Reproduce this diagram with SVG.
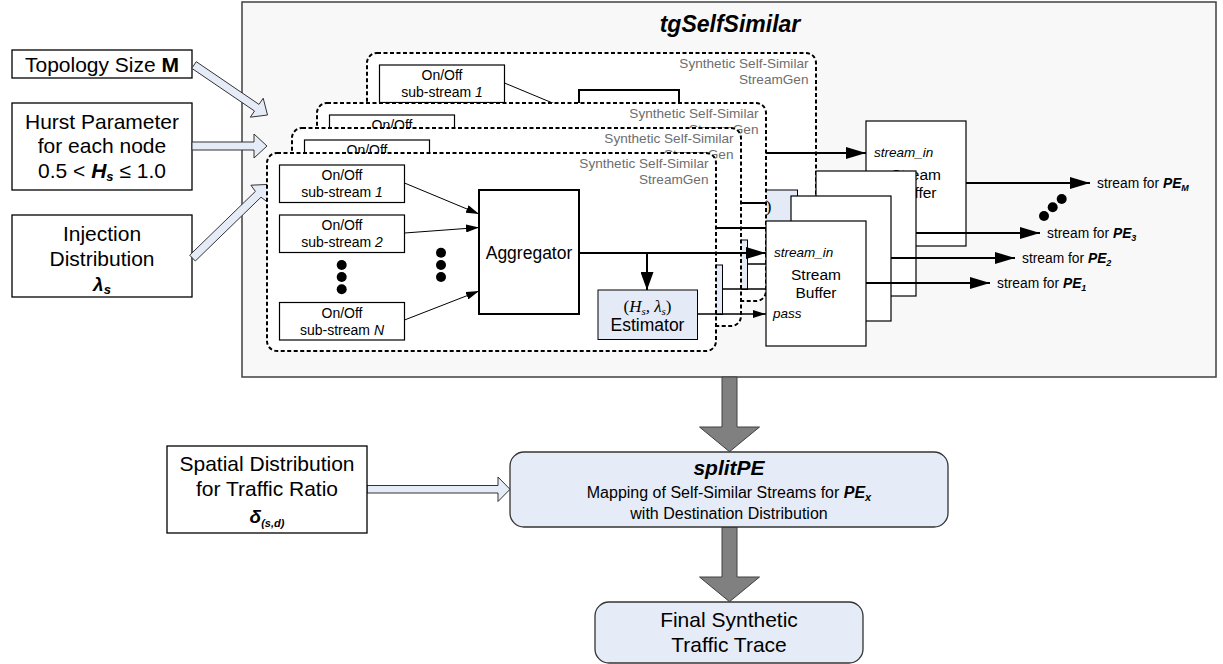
<svg xmlns="http://www.w3.org/2000/svg" width="1223" height="664" viewBox="0 0 1223 664">
<style>
text{font-family:"Liberation Sans",Arial,sans-serif;fill:#000}
.box{fill:#fff;stroke:#000;stroke-width:1.3}
.gen{fill:#fff;stroke:#000;stroke-width:2;stroke-dasharray:4 2.5}
.sub{fill:#fff;stroke:#000;stroke-width:1.2}
.agg{fill:#fff;stroke:#000;stroke-width:2}
.est{fill:#e4ebf6;stroke:#000;stroke-width:1}
.buf{fill:#fff;stroke:#000;stroke-width:1.2}
.gl{font-size:13.6px;fill:#6e6e6e;text-anchor:end}
.st{font-size:14px;text-anchor:middle}
.ag{font-size:17.5px;text-anchor:middle}
.bt{font-size:15.5px;text-anchor:middle}
.it{font-size:13.5px;font-style:italic}
.ol{font-size:13.8px}
.in{font-size:21px;text-anchor:middle}
.math{font-family:"Liberation Serif","Times New Roman",serif;font-style:italic;font-size:17px;text-anchor:middle}
.up{font-style:normal}
.thin{stroke:#000;stroke-width:1;fill:none}
.mid{stroke:#000;stroke-width:1.3;fill:none}
.thick{stroke:#000;stroke-width:2;fill:none}
.hol{fill:#e6ecf7;stroke:#333;stroke-width:1}
.gray{fill:#808080;stroke:#404040;stroke-width:1}
.rnd{fill:#e6ecf7;stroke:#333;stroke-width:1.3}
.dot{fill:#000}
</style>
<defs>
<marker id="ah" markerUnits="userSpaceOnUse" markerWidth="20" markerHeight="12" refX="20" refY="6" orient="auto"><path d="M0,0 L20,6 L0,12 z" fill="#000"/></marker>
<marker id="ahv" markerUnits="userSpaceOnUse" markerWidth="18" markerHeight="13" refX="18" refY="6.5" orient="auto"><path d="M0,0 L18,6.5 L0,13 z" fill="#000"/></marker>
<marker id="as" markerUnits="userSpaceOnUse" markerWidth="13" markerHeight="8" refX="13" refY="4" orient="auto"><path d="M0,0 L13,4 L0,8 z" fill="#000"/></marker>
</defs>

<g id="tgSelfSimilar">
<rect x="242" y="2" width="974" height="375" fill="#f8f8f8" stroke="#404040" stroke-width="1.5"/>
<text x="730" y="32" font-size="23px" font-weight="bold" font-style="italic" text-anchor="middle">tgSelfSimilar</text>
</g>

<g id="inputs">
<g id="topology"><rect class="box" x="12" y="50" width="180" height="28"/><text class="in" x="102" y="71.5">Topology Size <tspan font-weight="bold">M</tspan></text></g>
<g id="hurst"><rect class="box" x="12" y="103" width="180" height="87"/>
<text class="in" x="102" y="128.5">Hurst Parameter</text>
<text class="in" x="102" y="153">for each node</text>
<text class="in" x="102" y="177.5">0.5 &lt; <tspan font-weight="bold" font-style="italic">H</tspan><tspan font-weight="bold" font-style="italic" font-size="13px" dy="3">s</tspan><tspan dy="-3"> ≤ 1.0</tspan></text></g>
<g id="injection"><rect class="box" x="12" y="215" width="180" height="82"/>
<text class="in" x="102" y="240.5">Injection</text>
<text class="in" x="102" y="265.5">Distribution</text>
<text x="102" y="291" text-anchor="middle" font-family="Liberation Serif,serif" font-weight="bold" font-style="italic" font-size="19px">λ<tspan font-family="Liberation Sans,sans-serif" font-size="13px" dy="3">s</tspan></text></g>
</g>

<g id="input-arrows" class="connectors">
<polygon class="hol" points="196.25,61.7 259,104.4 263.2,98.2 267.5,115 250.3,117.2 254.5,111 191.75,68.3"/>
<polygon class="hol" points="192,142 254,142 254,134 267,146 254,158 254,150 192,150"/>
<polygon class="hol" points="189.7,255.2 255.4,191.4 250.9,185.2 268.8,184.4 267.2,201.8 261,197.2 195.3,261"/>
</g>

<!-- plane M (back) -->
<g id="plane-M" transform="translate(100,-100)">
<g id="gen-M">
<rect class="gen" x="267" y="153" width="449" height="198" rx="10"/>
<text class="gl" x="708.5" y="167.5">Synthetic Self-Similar</text>
<text class="gl" x="708.5" y="184">StreamGen</text>
<rect class="sub" x="279.5" y="165" width="125" height="37.5"/>
<text class="st" x="342" y="180">On/Off</text>
<text class="st" x="342" y="197">sub-stream <tspan font-style="italic">1</tspan></text>
<rect class="agg" x="479" y="190" width="100" height="124"/>
<rect class="est" x="598" y="290" width="99.5" height="49.5"/>
<text class="math" x="647.5" y="311.5"><tspan class="up">(</tspan>H<tspan font-size="11px" dy="3">s</tspan><tspan dy="-3">, λ</tspan><tspan font-size="11px" dy="3">s</tspan><tspan class="up" dy="-3">)</tspan></text>
</g>
<g id="conn-M" class="connectors">
<line class="thin" x1="404.5" y1="183" x2="479" y2="214" marker-end="url(#as)"/>
<line class="thick" x1="579" y1="253" x2="766" y2="253" marker-end="url(#ah)"/>
</g>
<g id="buffer-M">
<rect class="buf" x="766" y="221" width="100" height="125"/>
<text class="it" x="774" y="257">stream_in</text>
<text class="bt" x="816" y="279.5">Stream</text>
<text class="bt" x="816" y="298">Buffer</text>
</g>
<g id="out-M" class="connectors">
<line class="thick" x1="866" y1="283" x2="990" y2="283" marker-end="url(#ah)"/>
<text class="ol" x="997" y="288">stream for <tspan font-weight="bold" font-style="italic">PE</tspan><tspan font-weight="bold" font-style="italic" font-size="9px" dy="3">M</tspan></text>
</g>
</g>

<!-- plane 3 -->
<g id="plane-3" transform="translate(50,-50)">
<g id="gen-3">
<rect class="gen" x="267" y="153" width="449" height="198" rx="10"/>
<text class="gl" x="708.5" y="167.5">Synthetic Self-Similar</text>
<text class="gl" x="708.5" y="184">StreamGen</text>
<rect class="sub" x="279.5" y="165" width="125" height="37.5"/>
<text class="st" x="342" y="180">On/Off</text>
<rect class="agg" x="479" y="190" width="100" height="124"/>
<rect class="est" x="598" y="290" width="99.5" height="49.5"/>
</g>
<g id="conn-3" class="connectors">
<line class="thick" x1="579" y1="253" x2="716" y2="253"/>
<line class="mid" x1="697.5" y1="314" x2="766" y2="314" marker-end="url(#as)"/>
</g>
<g id="buffer-3">
<rect class="buf" x="766" y="221" width="100" height="125"/>
</g>
<g id="out-3" class="connectors">
<line class="thick" x1="866" y1="283" x2="990" y2="283" marker-end="url(#ah)"/>
<text class="ol" x="997" y="288">stream for <tspan font-weight="bold" font-style="italic">PE</tspan><tspan font-weight="bold" font-style="italic" font-size="9px" dy="3">3</tspan></text>
</g>
</g>

<!-- plane 2 -->
<g id="plane-2" transform="translate(25,-25)">
<g id="gen-2">
<rect class="gen" x="267" y="153" width="449" height="198" rx="10"/>
<text class="gl" x="708.5" y="167.5">Synthetic Self-Similar</text>
<text class="gl" x="708.5" y="184">StreamGen</text>
<rect class="sub" x="279.5" y="165" width="125" height="37.5"/>
<text class="st" x="342" y="180">On/Off</text>
<rect class="agg" x="479" y="190" width="100" height="124"/>
<rect class="est" x="598" y="290" width="99.5" height="49.5"/>
</g>
<g id="conn-2" class="connectors">
<line class="thick" x1="579" y1="253" x2="766" y2="253" marker-end="url(#ah)"/>
<line class="mid" x1="697.5" y1="314" x2="766" y2="314" marker-end="url(#as)"/>
</g>
<g id="buffer-2">
<rect class="buf" x="766" y="221" width="100" height="125"/>
</g>
<g id="out-2" class="connectors">
<line class="thick" x1="866" y1="283" x2="990" y2="283" marker-end="url(#ah)"/>
<text class="ol" x="997" y="288">stream for <tspan font-weight="bold" font-style="italic">PE</tspan><tspan font-weight="bold" font-style="italic" font-size="9px" dy="3">2</tspan></text>
</g>
</g>

<!-- plane 1 (front) -->
<g id="plane-1">
<g id="gen-1">
<rect class="gen" x="267" y="153" width="449" height="198" rx="10"/>
<text class="gl" x="708.5" y="167.5">Synthetic Self-Similar</text>
<text class="gl" x="708.5" y="184">StreamGen</text>
<g id="sub1"><rect class="sub" x="279.5" y="165" width="125" height="37.5"/>
<text class="st" x="342" y="180">On/Off</text>
<text class="st" x="342" y="197">sub-stream <tspan font-style="italic">1</tspan></text></g>
<g id="sub2"><rect class="sub" x="279.5" y="215" width="125" height="37.5"/>
<text class="st" x="342" y="230">On/Off</text>
<text class="st" x="342" y="247">sub-stream <tspan font-style="italic">2</tspan></text></g>
<g id="subN"><rect class="sub" x="279.5" y="302.5" width="125" height="37.5"/>
<text class="st" x="342" y="317.5">On/Off</text>
<text class="st" x="342" y="334.5">sub-stream <tspan font-style="italic">N</tspan></text></g>
<circle class="dot" cx="341.7" cy="265" r="5"/><circle class="dot" cx="341.7" cy="277" r="5"/><circle class="dot" cx="341.7" cy="289.3" r="5"/>
<circle class="dot" cx="441" cy="252.7" r="5"/><circle class="dot" cx="441" cy="265" r="5"/><circle class="dot" cx="441" cy="277" r="5"/>
<g id="aggregator"><rect class="agg" x="479" y="190" width="100" height="124"/>
<text class="ag" x="529" y="259">Aggregator</text></g>
<g id="estimator"><rect class="est" x="598" y="290" width="99.5" height="49.5"/>
<text class="math" x="647.5" y="311.5"><tspan class="up">(</tspan>H<tspan font-size="11px" dy="3">s</tspan><tspan dy="-3">, λ</tspan><tspan font-size="11px" dy="3">s</tspan><tspan class="up" dy="-3">)</tspan></text>
<text class="ag" x="647.5" y="331">Estimator</text></g>
</g>
<g id="conn-1" class="connectors">
<line class="thin" x1="404.5" y1="183" x2="479" y2="214" marker-end="url(#as)"/>
<line class="thin" x1="404.5" y1="233" x2="479" y2="227.5" marker-end="url(#as)"/>
<line class="thin" x1="404.5" y1="320" x2="479" y2="291" marker-end="url(#as)"/>
<line class="thick" x1="579" y1="253" x2="766" y2="253" marker-end="url(#ah)"/>
<line class="thick" x1="647" y1="253" x2="647" y2="290" marker-end="url(#ahv)"/>
<line class="mid" x1="697.5" y1="314" x2="766" y2="314" marker-end="url(#as)"/>
</g>
<g id="buffer-1">
<rect class="buf" x="766" y="221" width="100" height="125"/>
<text class="it" x="774" y="257">stream_in</text>
<text class="bt" x="816" y="279.5">Stream</text>
<text class="bt" x="816" y="298">Buffer</text>
<text class="it" x="773" y="318">pass</text>
</g>
<g id="out-1" class="connectors">
<line class="thick" x1="866" y1="283" x2="990" y2="283" marker-end="url(#ah)"/>
<text class="ol" x="997" y="288">stream for <tspan font-weight="bold" font-style="italic">PE</tspan><tspan font-weight="bold" font-style="italic" font-size="9px" dy="3">1</tspan></text>
</g>
</g>

<g id="pe-dots">
<circle class="dot" cx="1061.7" cy="199" r="5"/><circle class="dot" cx="1052.7" cy="207.3" r="5"/><circle class="dot" cx="1044" cy="216" r="5"/>
</g>

<g id="lower-connectors" class="connectors">
<polygon class="gray" points="722,377 737,377 737,427 759.5,427 729.5,451.7 699.5,427 722,427"/>
<polygon class="gray" points="722,527 737,527 737,577 759.5,577 729.5,601.7 699.5,577 722,577"/>
<polygon class="hol" points="367,485.5 498,485.5 498,477 510,489.3 498,501.5 498,493 367,493"/>
</g>

<g id="spatial">
<rect class="box" x="167" y="446" width="200" height="87"/>
<text class="in" x="267" y="471">Spatial Distribution</text>
<text class="in" x="267" y="496">for Traffic Ratio</text>
<text x="267" y="523" text-anchor="middle" font-family="Liberation Serif,serif" font-weight="bold" font-style="italic" font-size="19px">δ<tspan font-size="11px" dy="4">(s,d)</tspan></text>
</g>

<g id="splitPE">
<rect class="rnd" x="510" y="452" width="438" height="75" rx="14"/>
<text x="729" y="475" text-anchor="middle" font-size="21px" font-weight="bold" font-style="italic">splitPE</text>
<text x="729" y="498" text-anchor="middle" font-size="16px">Mapping of Self-Similar Streams for <tspan font-weight="bold" font-style="italic">PE</tspan><tspan font-weight="bold" font-style="italic" font-size="11px" dy="3">x</tspan></text>
<text x="729" y="519" text-anchor="middle" font-size="16px">with Destination Distribution</text>
</g>

<g id="final">
<rect class="rnd" x="595" y="602" width="268" height="61" rx="14"/>
<text class="in" x="729" y="627">Final Synthetic</text>
<text class="in" x="729" y="652">Traffic Trace</text>
</g>
</svg>
